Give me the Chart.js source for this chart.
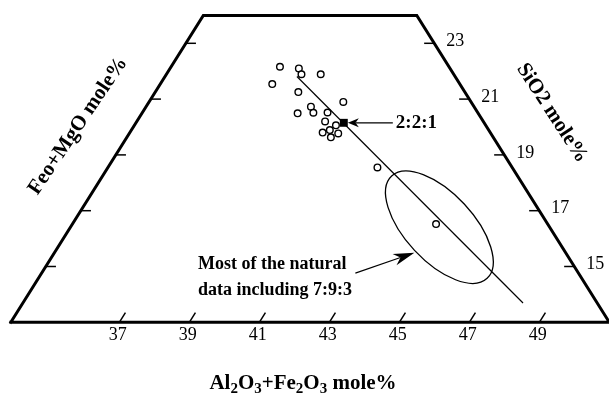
<!DOCTYPE html>
<html>
<head>
<meta charset="utf-8">
<script src="https://cdn.jsdelivr.net/npm/chart.js@4.4.0/dist/chart.umd.min.js"></script>
<style>
  html, body { margin: 0; padding: 0; background: #fff; }
  #wrap { width: 609px; height: 396px; position: relative; }
</style>
</head>
<body>
<div id="wrap"><canvas id="chart"></canvas></div>
<script>
// Sample compositions, mole% (Al2O3+Fe2O3, FeO+MgO, SiO2)
const alumina = [37.01, 37.58, 37.76, 38.31, 37.10, 37.99, 39.45, 38.61, 38.79, 38.35,
                 39.19, 39.28, 39.66, 39.41, 39.57, 39.73, 39.87, 41.60, 44.29];
const feoMgo  = [40.83, 40.32, 40.35, 39.80, 41.36, 40.76, 39.65, 40.66, 40.70, 41.16,
                 40.29, 40.52, 40.28, 40.79, 40.54, 40.64, 40.36, 39.85, 39.19];
const silica  = [22.16, 22.10, 21.89, 21.89, 21.54, 21.25, 20.90, 20.73, 20.51, 20.49,
                 20.52, 20.20, 20.06, 19.80, 19.89, 19.63, 19.77, 18.55, 16.52];

// the 2:2:1 composition
const ratioAlumina = [39.84];
const ratioSilica = [20.15];

// trend line through 2:2:1
const trendAlumina = [37.67, 48.19];
const trendSilica = [21.81, 13.69];

// diagram frame: Al2O3+Fe2O3 >= 33.9, FeO+MgO >= 36, 13 <= SiO2 <= 24
const frameAlumina = [33.9, 33.9, 40, 51, 33.9];
const frameSilica = [13, 24, 24, 13, 13];

const aluminaTicks = [37, 39, 41, 43, 45, 47, 49];
const silicaTicks = [15, 17, 19, 21, 23];

// centre of the "natural data" field
const naturalAlumina = 44.44;
const naturalSilica = 16.41;

const SI_MIN = 13, AL_MIN = 33.9, FE_MIN = 36;

// ternary -> cartesian
function toXY(al, si) {
    return { x: al + si / 2, y: si };
}

const datasets = [];

// frame
datasets.push({
    data: frameAlumina.map((a, i) => toXY(a, frameSilica[i])),
    showLine: true, borderColor: '#000', borderWidth: 3, pointRadius: 0,
    borderJoinStyle: 'miter', borderCapStyle: 'square'
});

// tick marks
const tickStyle = { showLine: true, borderColor: '#000', borderWidth: 1.5, pointRadius: 0 };
aluminaTicks.forEach(a => {
    datasets.push({ ...tickStyle, data: [toXY(a, SI_MIN), toXY(a, SI_MIN + 0.35)] });
});
silicaTicks.forEach(si => {
    const edge = 100 - FE_MIN - si;
    datasets.push({ ...tickStyle, data: [toXY(edge, si), toXY(edge - 0.29, si)] });
    datasets.push({ ...tickStyle, data: [toXY(AL_MIN, si), toXY(AL_MIN + 0.29, si)] });
});

// trend line
datasets.push({
    data: trendAlumina.map((a, i) => toXY(a, trendSilica[i])),
    showLine: true, borderColor: '#000', borderWidth: 1.2, pointRadius: 0
});

// samples
datasets.push({
    data: alumina.map((a, i) => toXY(a, silica[i])),
    showLine: false, pointStyle: 'circle', pointRadius: 3.3, pointBorderWidth: 1.4,
    pointBackgroundColor: '#fff', pointBorderColor: '#000'
});

// 2:2:1 marker
datasets.push({
    data: ratioAlumina.map((a, i) => toXY(a, ratioSilica[i])),
    showLine: false, pointStyle: 'rect', pointRadius: 5.6, pointBorderWidth: 0,
    pointBackgroundColor: '#000', pointBorderColor: '#000'
});

function drawArrow(ctx, x1, y1, x2, y2, len, half) {
    const ang = Math.atan2(y2 - y1, x2 - x1);
    ctx.beginPath();
    ctx.moveTo(x1, y1);
    ctx.lineTo(x2 - Math.cos(ang) * len * 0.7, y2 - Math.sin(ang) * len * 0.7);
    ctx.stroke();
    ctx.save();
    ctx.translate(x2, y2);
    ctx.rotate(ang);
    ctx.beginPath();
    ctx.moveTo(0, 0);
    ctx.lineTo(-len, -half);
    ctx.lineTo(-len * 0.7, 0);
    ctx.lineTo(-len, half);
    ctx.closePath();
    ctx.fill();
    ctx.restore();
}

// text with subscripts, centred on cx
function drawSubText(ctx, parts, cx, cy, size, subSize) {
    let total = 0;
    parts.forEach(p => {
        ctx.font = 'bold ' + (p[1] ? subSize : size) + 'px "Liberation Serif"';
        total += ctx.measureText(p[0]).width;
    });
    let x = cx - total / 2;
    ctx.textAlign = 'left';
    ctx.textBaseline = 'middle';
    parts.forEach(p => {
        ctx.font = 'bold ' + (p[1] ? subSize : size) + 'px "Liberation Serif"';
        ctx.fillText(p[0], x, cy + (p[1] ? 5 : 0));
        x += ctx.measureText(p[0]).width;
    });
}

const annotations = {
    id: 'annotations',
    afterDatasetsDraw(chart) {
        const { ctx, scales: { x, y } } = chart;
        const px = (al, si) => [x.getPixelForValue(al + si / 2), y.getPixelForValue(si)];
        ctx.save();
        ctx.strokeStyle = '#000';
        ctx.fillStyle = '#000';

        // natural data field
        const [ex, ey] = px(naturalAlumina, naturalSilica);
        ctx.lineWidth = 1.3;
        ctx.beginPath();
        ctx.ellipse(ex, ey, 70, 34, 47 * Math.PI / 180, 0, Math.PI * 2);
        ctx.stroke();

        // arrow to the field
        ctx.lineWidth = 1.2;
        drawArrow(ctx, ex - 84, ey + 46, ex - 25, ey + 25.5, 21, 6);

        // arrow to 2:2:1
        const [rx, ry] = px(ratioAlumina[0], ratioSilica[0]);
        drawArrow(ctx, rx + 49, ry, rx + 4, ry, 11, 4.5);

        ctx.textBaseline = 'middle';
        ctx.textAlign = 'left';
        ctx.font = 'bold 19px "Liberation Serif"';
        ctx.fillText('2:2:1', rx + 52, ry + 0.5);

        ctx.font = 'bold 18px "Liberation Serif"';
        ctx.fillText('Most of the natural', 198, 264);
        ctx.fillText('data including 7:9:3', 198, 290);

        // tick labels
        ctx.font = '18px "Liberation Serif"';
        ctx.textAlign = 'center';
        aluminaTicks.forEach(a => {
            const [tx, ty] = px(a, SI_MIN);
            ctx.fillText(String(a), tx - 1.5, ty + 13);
        });
        ctx.textAlign = 'left';
        silicaTicks.forEach(si => {
            const [tx, ty] = px(100 - FE_MIN - si, si);
            ctx.fillText(String(si), tx + 12, ty - 2);
        });

        // axis titles
        ctx.font = 'bold 21px "Liberation Serif"';
        ctx.textAlign = 'center';
        ctx.save();
        ctx.translate(78, 126);
        ctx.rotate(-56 * Math.PI / 180);
        ctx.fillText('Feo+MgO mole%', 0, 0);
        ctx.restore();

        ctx.save();
        ctx.translate(552, 113);
        ctx.rotate(57 * Math.PI / 180);
        ctx.fillText('SiO2 mole%', 0, 0);
        ctx.restore();

        drawSubText(ctx, [['Al', false], ['2', true], ['O', false], ['3', true], ['+Fe', false],
                          ['2', true], ['O', false], ['3', true], [' mole%', false]], 303, 384, 21, 15);
        ctx.restore();
    }
};

new Chart(document.getElementById('chart'), {
    type: 'scatter',
    data: { datasets: datasets },
    options: {
        animation: false,
        responsive: true,
        maintainAspectRatio: false,
        events: [],
        layout: { padding: 0, autoPadding: false },
        plugins: { legend: { display: false }, tooltip: { enabled: false } },
        scales: {
            x: { type: 'linear', min: 40.0914, max: 57.4914, display: false },
            y: { type: 'linear', min: 10.358, max: 24.552, display: false }
        }
    },
    plugins: [annotations]
});
</script>
</body>
</html>
